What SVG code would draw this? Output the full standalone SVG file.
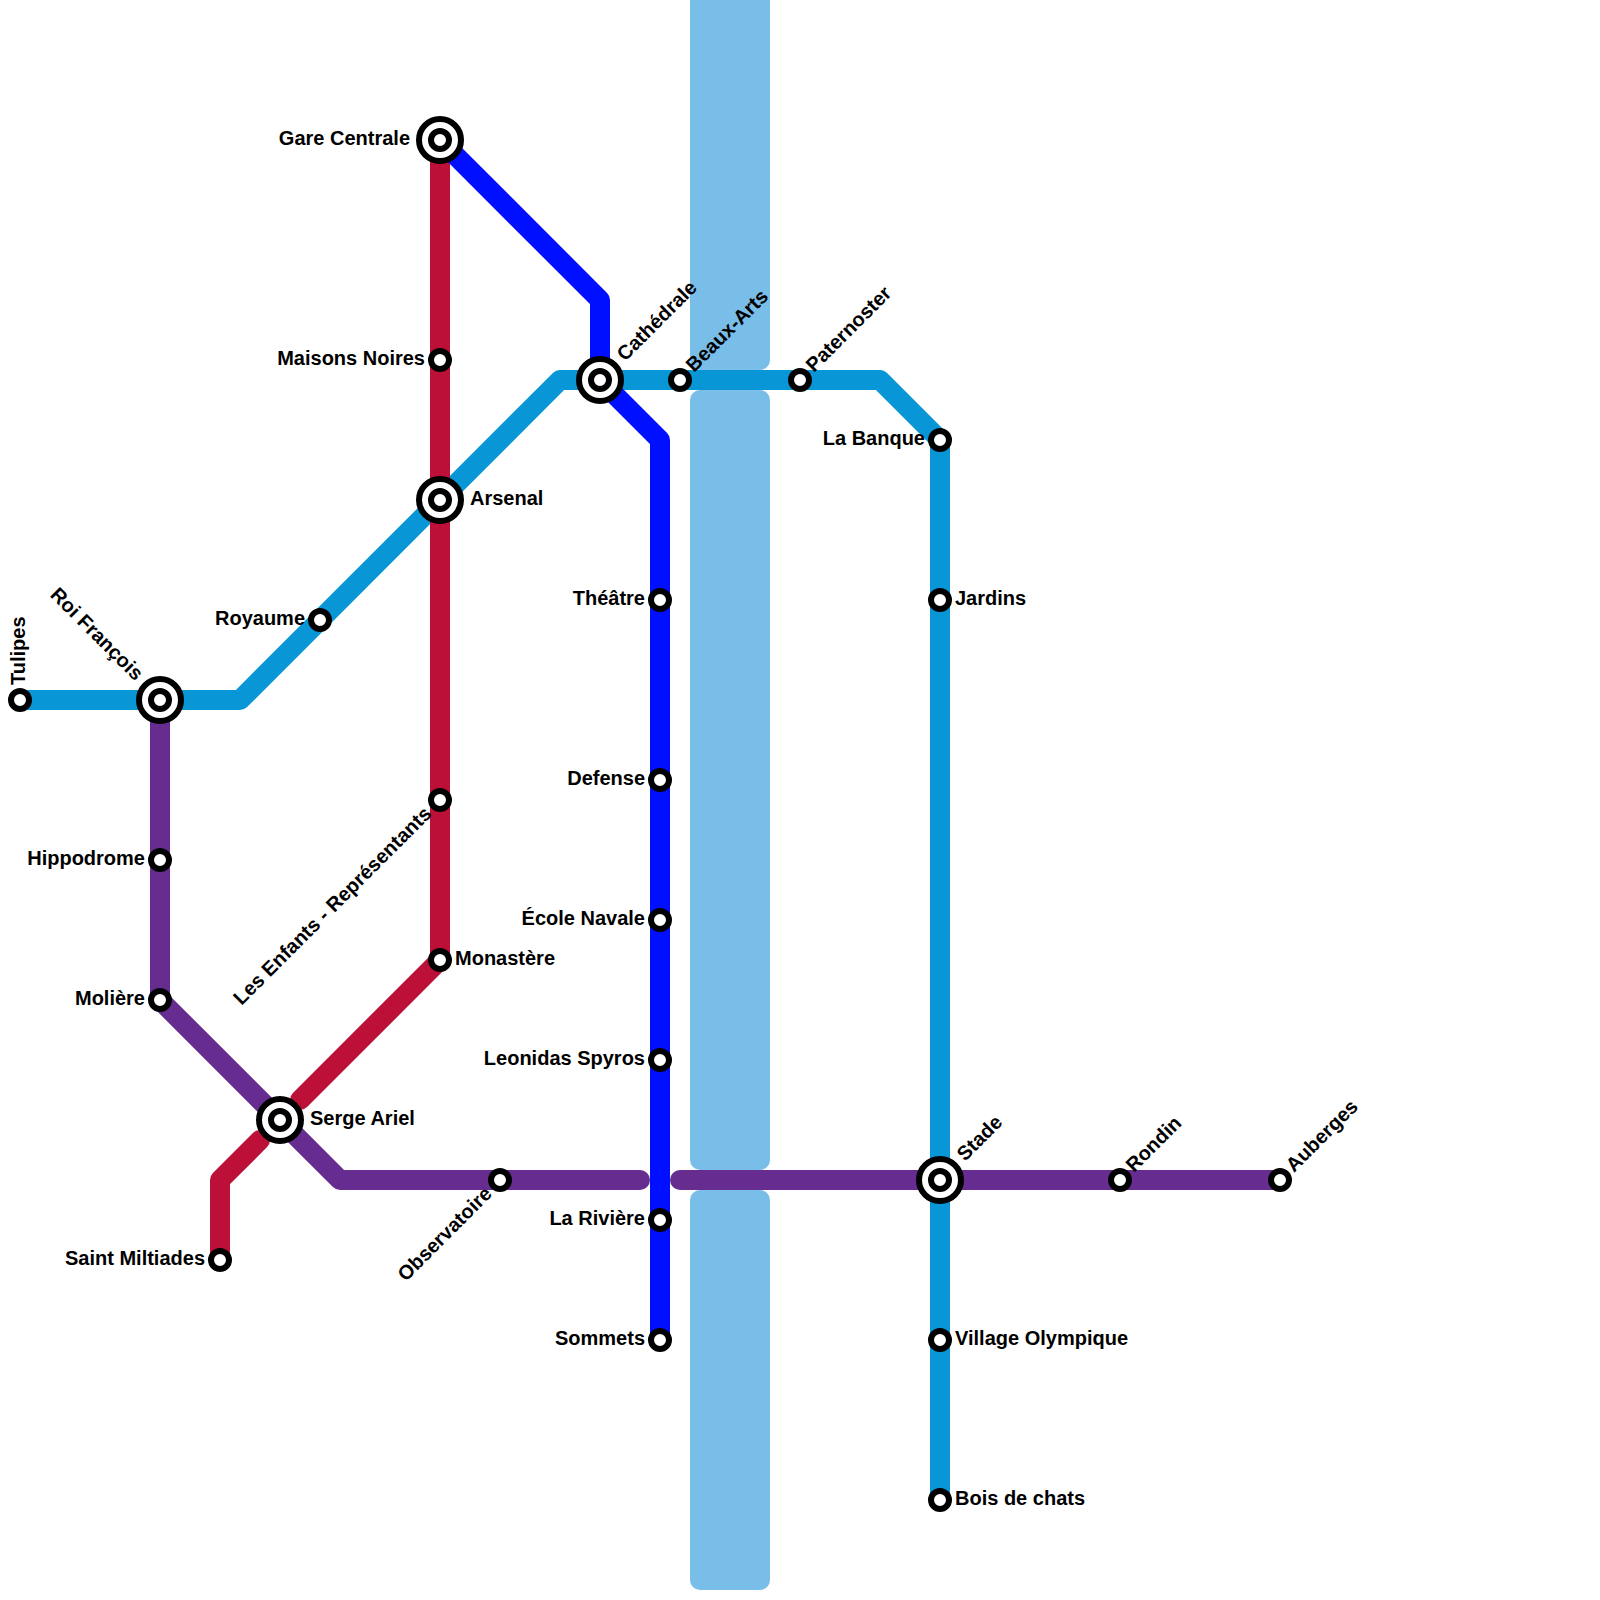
<svg xmlns="http://www.w3.org/2000/svg" width="1600" height="1600" viewBox="0 0 1600 1600">
<style>
.river{fill:#79bde9}
.line{fill:none;stroke-width:20;stroke-linecap:round;stroke-linejoin:round}
.cyan{stroke:#0896d7}.red{stroke:#bd1038}.blue{stroke:#000fff}.purple{stroke:#662c90}
.s{fill:#fff;stroke:#000;stroke-width:6}
.o{fill:#fff;stroke:#000;stroke-width:6}
text{font-family:"Liberation Sans",Arial,sans-serif;font-weight:700;font-size:20px;fill:#000}
.e{text-anchor:end}
</style>
<defs>
<g id="st"><circle class="s" r="9"/></g>
<g id="ic"><circle class="o" r="21"/><circle class="s" r="9"/></g>
</defs>
<g id="river">
<rect class="river" x="690" y="-20" width="80" height="390" rx="10"/>
<rect class="river" x="690" y="390" width="80" height="780" rx="10"/>
<rect class="river" x="690" y="1190" width="80" height="400" rx="10"/>
</g>
<g id="connectors">
<path class="line cyan" d="M20 700H240L560 380H880L940 440V1500"/>
<path class="line red" d="M440 140V960L300 1100"/>
<path class="line red" d="M260 1140L220 1180V1260"/>
<path class="line blue" d="M440 140L600 300V380L660 440V1340"/>
<path class="line purple" d="M160 700V1000L340 1180H640"/>
<path class="line purple" d="M680 1180H1280"/>
</g>
<g id="tulipes"><use href="#st" x="20" y="700"/><text transform="translate(25 685) rotate(-90)">Tulipes</text></g>
<g id="roi-francois"><use href="#ic" x="160" y="700"/><text class="e" transform="translate(135 681.500) rotate(45)">Roi François</text></g>
<g id="royaume"><use href="#st" x="320" y="620"/><text class="e" x="305" y="625">Royaume</text></g>
<g id="arsenal"><use href="#ic" x="440" y="500"/><text x="470" y="505">Arsenal</text></g>
<g id="cathedrale"><use href="#ic" x="600" y="380"/><text transform="translate(625 362) rotate(-45)">Cathédrale</text></g>
<g id="beaux-arts"><use href="#st" x="680" y="380"/><text transform="translate(694 373) rotate(-45)">Beaux-Arts</text></g>
<g id="paternoster"><use href="#st" x="800" y="380"/><text transform="translate(814 373) rotate(-45)">Paternoster</text></g>
<g id="la-banque"><use href="#st" x="940" y="440"/><text class="e" x="925" y="445">La Banque</text></g>
<g id="jardins"><use href="#st" x="940" y="600"/><text x="955" y="605">Jardins</text></g>
<g id="stade"><use href="#ic" x="940" y="1180"/><text transform="translate(965 1162) rotate(-45)">Stade</text></g>
<g id="village-olympique"><use href="#st" x="940" y="1340"/><text x="955" y="1345">Village Olympique</text></g>
<g id="bois-de-chats"><use href="#st" x="940" y="1500"/><text x="955" y="1505">Bois de chats</text></g>
<g id="gare-centrale"><use href="#ic" x="440" y="140"/><text class="e" x="410" y="145">Gare Centrale</text></g>
<g id="maisons-noires"><use href="#st" x="440" y="360"/><text class="e" x="425" y="365">Maisons Noires</text></g>
<g id="les-enfants"><use href="#st" x="440" y="800"/><text class="e" transform="translate(432.500 815) rotate(-45)">Les Enfants - Représentants</text></g>
<g id="monastere"><use href="#st" x="440" y="960"/><text x="455" y="965">Monastère</text></g>
<g id="serge-ariel"><use href="#ic" x="280" y="1120"/><text x="310" y="1125">Serge Ariel</text></g>
<g id="saint-miltiades"><use href="#st" x="220" y="1260"/><text class="e" x="205" y="1265">Saint Miltiades</text></g>
<g id="theatre"><use href="#st" x="660" y="600"/><text class="e" x="645" y="605">Théâtre</text></g>
<g id="defense"><use href="#st" x="660" y="780"/><text class="e" x="645" y="785">Defense</text></g>
<g id="ecole-navale"><use href="#st" x="660" y="920"/><text class="e" x="645" y="925">École Navale</text></g>
<g id="leonidas-spyros"><use href="#st" x="660" y="1060"/><text class="e" x="645" y="1065">Leonidas Spyros</text></g>
<g id="la-riviere"><use href="#st" x="660" y="1220"/><text class="e" x="645" y="1225">La Rivière</text></g>
<g id="sommets"><use href="#st" x="660" y="1340"/><text class="e" x="645" y="1345">Sommets</text></g>
<g id="hippodrome"><use href="#st" x="160" y="860"/><text class="e" x="145" y="865">Hippodrome</text></g>
<g id="moliere"><use href="#st" x="160" y="1000"/><text class="e" x="145" y="1005">Molière</text></g>
<g id="observatoire"><use href="#st" x="500" y="1180"/><text class="e" transform="translate(493 1195) rotate(-45)">Observatoire</text></g>
<g id="rondin"><use href="#st" x="1120" y="1180"/><text transform="translate(1134 1173) rotate(-45)">Rondin</text></g>
<g id="auberges"><use href="#st" x="1280" y="1180"/><text transform="translate(1294 1173) rotate(-45)">Auberges</text></g>
</svg>
